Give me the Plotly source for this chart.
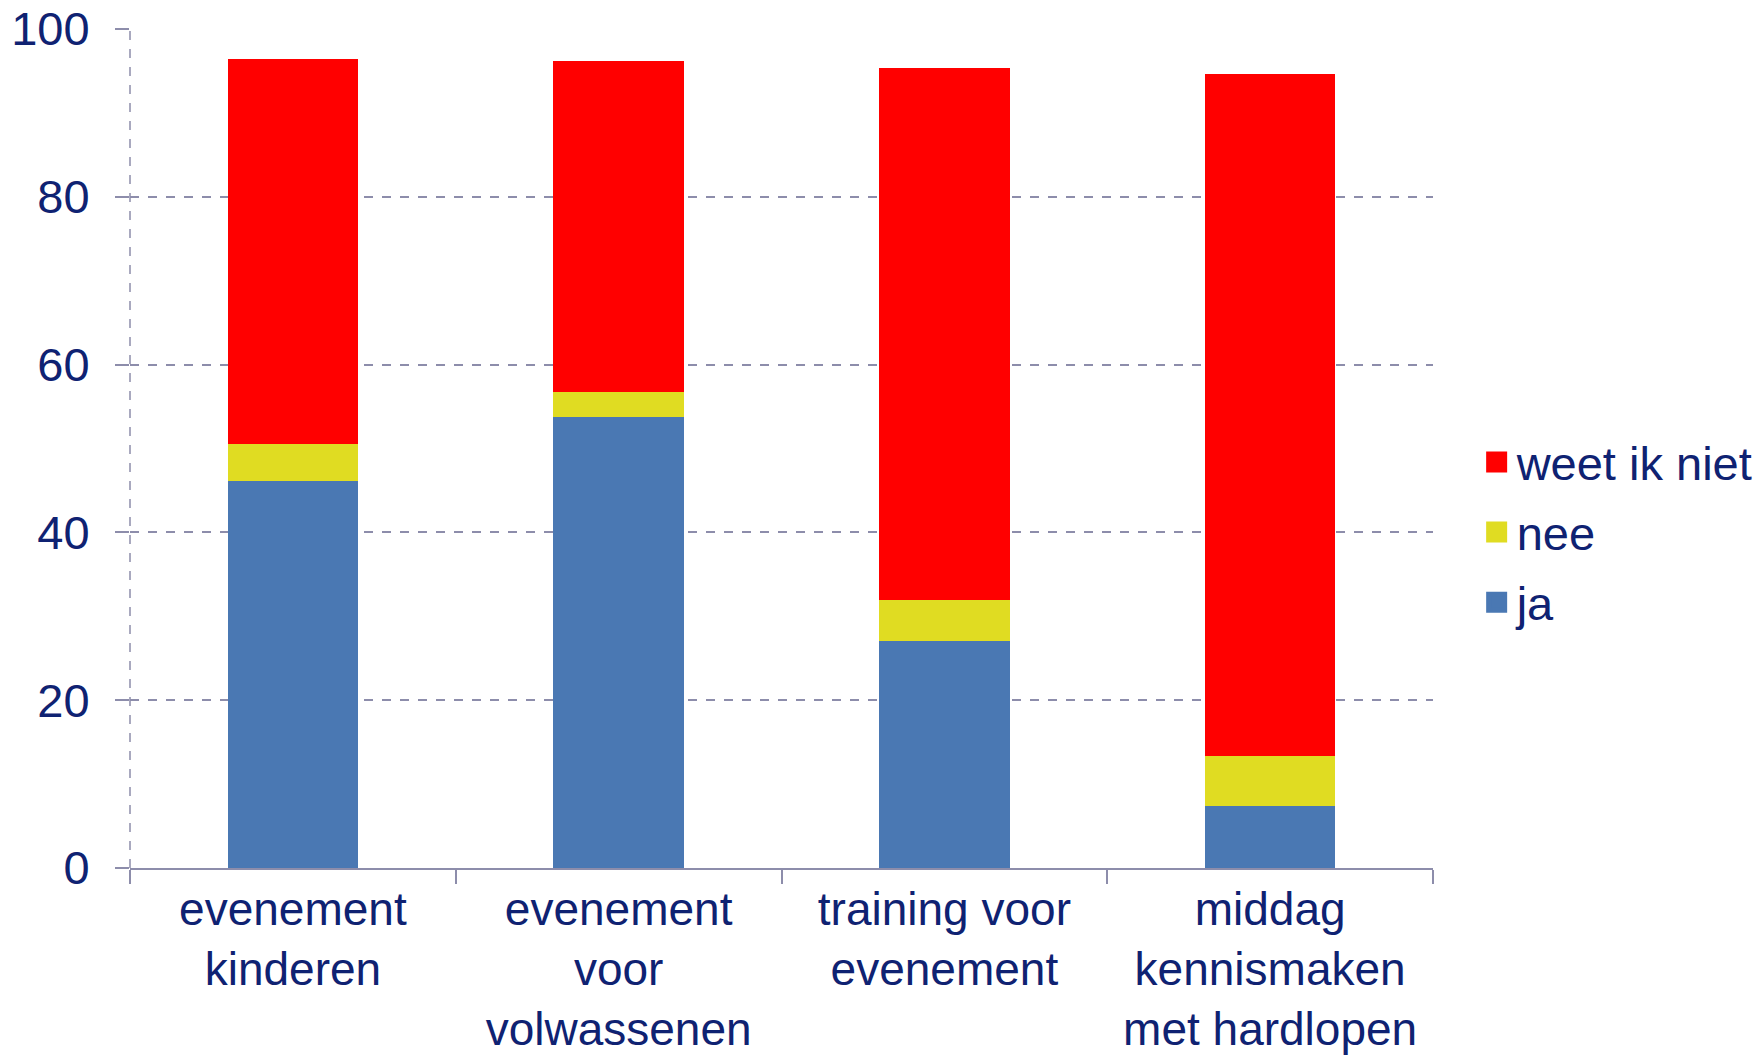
import plotly.graph_objects as go

categories = ["evenement<br>kinderen", "evenement<br>voor<br>volwassenen",
              "training voor<br>evenement", "middag<br>kennismaken<br>met hardlopen"]
ja = [46.1, 53.8, 27.1, 7.4]
nee = [4.4, 2.9, 4.8, 5.9]
weet = [45.9, 39.5, 63.5, 81.3]
y_ticks = [0, 20, 40, 60, 80, 100]
series = [("ja", ja, "#4a78b3"), ("nee", nee, "#e0dc22"), ("weet ik niet", weet, "#ff0000")]

TXT = "#0f2272"
GRID = "#8d8dab"
FONT = "Liberation Sans, Arial, sans-serif"

fig = go.Figure()
for name, vals, col in series:
    fig.add_trace(go.Bar(name=name, x=categories, y=vals, legendgroup=name, showlegend=False,
                         marker=dict(color=col, line=dict(width=0))))
# legend entries with larger square symbols
for name, vals, col in reversed(series):
    fig.add_trace(go.Scatter(name=name, x=[None], y=[None], mode="markers", legendgroup=name,
                             marker=dict(symbol="square", size=16, color=col,
                                         line=dict(color=col, width=5))))

fig.update_layout(
    barmode="stack",
    bargap=0.6,
    width=1763, height=1059,
    margin=dict(l=122, r=331, t=21, b=199),
    paper_bgcolor="white", plot_bgcolor="white",
    font=dict(family=FONT, size=47, color=TXT),
    showlegend=True,
    legend=dict(traceorder="grouped", tracegroupgap=6, x=1.0335, xanchor="left", y=0.40, yanchor="middle",
                font=dict(size=47, color=TXT), bgcolor="rgba(0,0,0,0)", itemwidth=30),
    hovermode=False,
)
fig.update_xaxes(
    type="category", showline=True, linecolor=GRID, linewidth=2,
    ticks="outside", tickson="boundaries", ticklen=14, tickcolor=GRID, tickwidth=2,
    showgrid=False, tickfont=dict(size=46, color=TXT), automargin=False, ticklabelstandoff=0,
    ticklabeloverflow="allow",
)
fig.update_yaxes(
    range=[0, 100], tickvals=y_ticks, showline=False,
    showgrid=True, gridcolor=GRID, gridwidth=1.5, griddash="dash",
    ticks="outside", ticklen=14, tickcolor=GRID, tickwidth=1.5,
    tickfont=dict(size=47, color=TXT), ticklabelstandoff=16, automargin=False, zeroline=False,
    ticklabeloverflow="allow",
)
fig.add_shape(type="line", xref="paper", yref="paper", x0=0, x1=0, y0=0, y1=1,
              line=dict(color=GRID, width=1.5, dash="dash"), layer="below")

fig.write_html("out.html")
